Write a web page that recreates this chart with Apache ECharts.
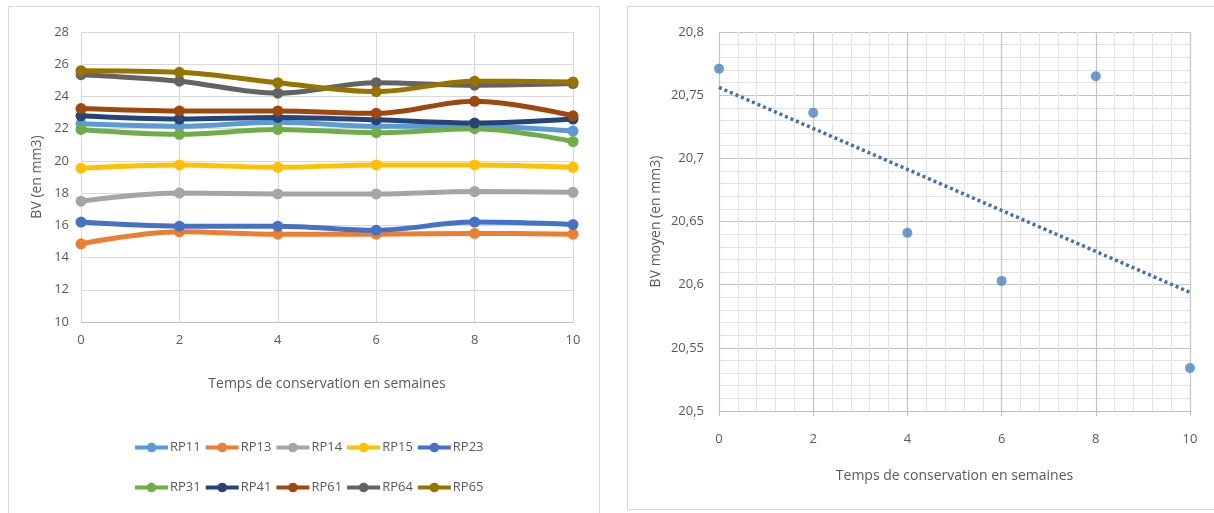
<!DOCTYPE html>
<html><head><meta charset="utf-8">
<script src="https://cdn.jsdelivr.net/npm/echarts@6/dist/echarts.min.js"></script>
<style>html,body{margin:0;padding:0;background:#fff}#c{width:1214px;height:513px}</style>
</head><body><div id="c"></div>
<script>
// ---- data ----
const weeks = [0, 2, 4, 6, 8, 10];
const seriesNames = ['RP11','RP13','RP14','RP15','RP23','RP31','RP41','RP61','RP64','RP65'];
const RP11 = [22.3, 22.15, 22.4, 22.15, 22.15, 21.85];
const RP13 = [14.85, 15.6, 15.45, 15.45, 15.5, 15.45];
const RP14 = [17.5, 18.0, 17.95, 17.95, 18.1, 18.05];
const RP15 = [19.55, 19.75, 19.6, 19.75, 19.75, 19.6];
const RP23 = [16.2, 15.95, 15.95, 15.7, 16.2, 16.05];
const RP31 = [21.95, 21.65, 21.95, 21.75, 22.0, 21.2];
const RP41 = [22.8, 22.6, 22.7, 22.55, 22.35, 22.6];
const RP61 = [23.25, 23.1, 23.1, 22.95, 23.7, 22.8];
const RP64 = [25.35, 24.95, 24.2, 24.85, 24.7, 24.8];
const RP65 = [25.6, 25.5, 24.85, 24.3, 24.95, 24.9];
const meanBV = [20.771, 20.736, 20.641, 20.603, 20.765, 20.534];
const leftYTicks = {min: 10, max: 28, interval: 2};
const rightYTicks = {min: 20.5, max: 20.8, interval: 0.05};
const xTitle = 'Temps de conservation en semaines';

const values = {RP11,RP13,RP14,RP15,RP23,RP31,RP41,RP61,RP64,RP65};
const colors = {RP11:'#5B9BD5',RP13:'#ED7D31',RP14:'#A5A5A5',RP15:'#FFC000',RP23:'#4472C4',
  RP31:'#70AD47',RP41:'#264478',RP61:'#9E480E',RP64:'#636363',RP65:'#997300'};

// linear trendline (least squares) for mean BV
const n = weeks.length;
const mx = weeks.reduce((a,b)=>a+b,0)/n, my = meanBV.reduce((a,b)=>a+b,0)/n;
let sxy=0, sxx=0;
weeks.forEach((x,i)=>{sxy+=(x-mx)*(meanBV[i]-my); sxx+=(x-mx)*(x-mx);});
const slope = sxy/sxx, icpt = my - slope*mx;
const trend = [[weeks[0], icpt+slope*weeks[0]], [weeks[n-1], icpt+slope*weeks[n-1]]];

const FONT = "'Open Sans','Noto Sans',sans-serif";
const TXT = '#595959';
const GRID = '#d9d9d9';

const lineSeries = seriesNames.map(name => ({
  name, type:'line', xAxisIndex:0, yAxisIndex:0, smooth:0.35,
  data: weeks.map((w,i)=>[w, values[name][i]]),
  symbol:'circle', symbolSize:11, showSymbol:true,
  lineStyle:{width:5, color:colors[name]},
  itemStyle:{color:colors[name]},
  emphasis:{disabled:true}, z: 3
}));

const legendCommon = {left:128, itemWidth:33, itemHeight:12, itemGap:3,
  textStyle:{fontFamily:FONT, fontSize:13, color:TXT, padding:[0,0,0,-3]},
  lineStyle:{width:4}};

const chart = echarts.init(document.getElementById('c'), null, {renderer:'canvas'});
chart.setOption({
  animation:false,
  textStyle:{fontFamily:FONT, color:TXT},
  graphic:[
    {type:'rect', shape:{x:8.5,y:6.5,width:591,height:520}, style:{fill:'none', stroke:'#d9d9d9', lineWidth:1}, z:-1},
    {type:'rect', shape:{x:627.5,y:6.5,width:600,height:503}, style:{fill:'none', stroke:'#d9d9d9', lineWidth:1}, z:-1}
  ],
  grid:[
    {left:81, top:32, width:492, height:290},
    {left:719, top:32, width:471, height:379}
  ],
  legend:[
    Object.assign({data:seriesNames.slice(0,5), top:436}, legendCommon),
    Object.assign({data:seriesNames.slice(5), top:476}, legendCommon)
  ],
  xAxis:[
    {type:'value', gridIndex:0, min:0, max:10, interval:2,
     name:xTitle, nameLocation:'middle', nameGap:55,
     nameTextStyle:{fontFamily:FONT, fontSize:14, color:TXT},
     axisLine:{show:true, lineStyle:{color:'#bfbfbf', width:1}},
     axisTick:{show:false},
     axisLabel:{fontFamily:FONT, fontSize:13, color:TXT, margin:12},
     splitLine:{show:true, lineStyle:{color:GRID}}},
    {type:'value', gridIndex:1, min:0, max:10, interval:2,
     name:xTitle, nameLocation:'middle', nameGap:58,
     nameTextStyle:{fontFamily:FONT, fontSize:14, color:TXT},
     axisLine:{show:true, lineStyle:{color:'#bfbfbf', width:1}},
     axisTick:{show:true, length:5, lineStyle:{color:'#bfbfbf'}},
     axisLabel:{fontFamily:FONT, fontSize:13, color:TXT, margin:22},
     splitLine:{show:true, lineStyle:{color:'#c4c4c4', width:1.2}},
     minorTick:{show:false, splitNumber:5},
     minorSplitLine:{show:true, lineStyle:{color:'#e3e3e3'}}}
  ],
  yAxis:[
    {type:'value', gridIndex:0, min:leftYTicks.min, max:leftYTicks.max, interval:leftYTicks.interval,
     name:'BV (en mm3)', nameLocation:'middle', nameGap:37, nameRotate:90,
     nameTextStyle:{fontFamily:FONT, fontSize:14, color:TXT},
     axisLine:{show:false}, axisTick:{show:false},
     axisLabel:{fontFamily:FONT, fontSize:13, color:TXT, margin:12},
     splitLine:{show:true, lineStyle:{color:GRID}}},
    {type:'value', gridIndex:1, min:rightYTicks.min, max:rightYTicks.max, interval:rightYTicks.interval,
     name:'BV moyen (en mm3)', nameLocation:'middle', nameGap:56, nameRotate:90,
     nameTextStyle:{fontFamily:FONT, fontSize:14, color:TXT},
     axisLine:{show:false}, axisTick:{show:false},
     axisLabel:{fontFamily:FONT, fontSize:13, color:TXT, margin:15,
       formatter: v => String(+v.toFixed(2)).replace('.', ',')},
     splitLine:{show:true, lineStyle:{color:'#c4c4c4', width:1.2}},
     minorTick:{show:false, splitNumber:5},
     minorSplitLine:{show:true, lineStyle:{color:'#e3e3e3'}}}
  ],
  series: lineSeries.concat([
    {name:'BV moyen', type:'scatter', xAxisIndex:1, yAxisIndex:1,
     data: weeks.map((w,i)=>[w, meanBV[i]]), symbol:'circle', symbolSize:10,
     itemStyle:{color:'#4a83c6'}, emphasis:{disabled:true}, z:4},
    {name:'Tendance', type:'line', xAxisIndex:1, yAxisIndex:1, data:trend,
     showSymbol:false, symbol:'none', lineStyle:{color:'#3e70b4', width:3.5, type:[3,3]},
     emphasis:{disabled:true}, z:3}
  ])
});
</script></body></html>
